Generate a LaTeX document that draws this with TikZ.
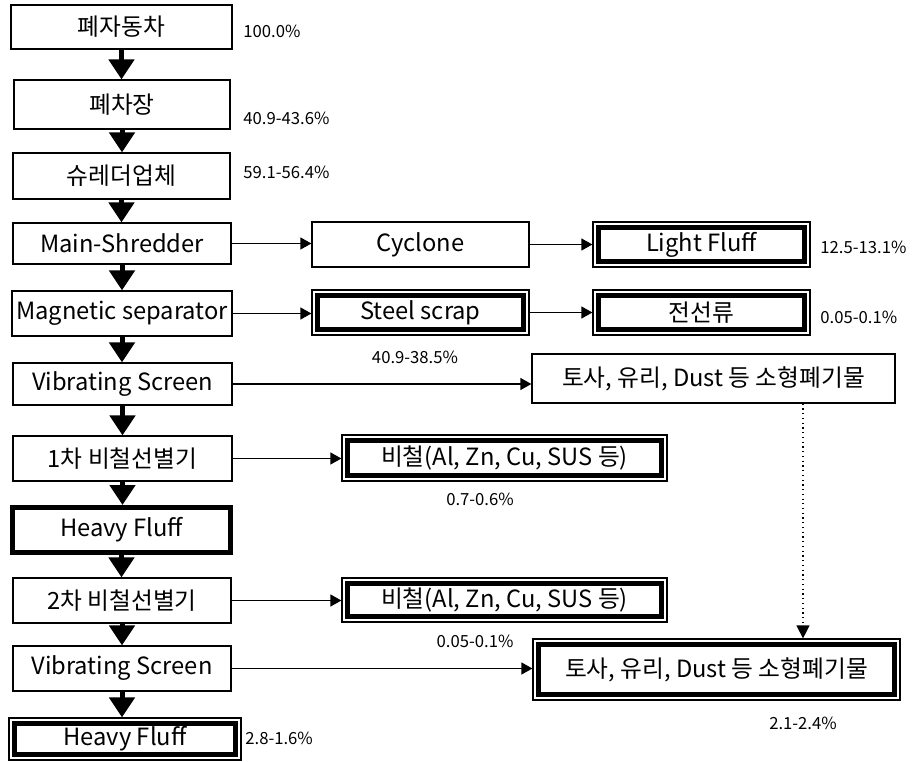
\documentclass[tikz,border=0pt]{standalone}
\usepackage{fontspec}
\setmainfont{Noto Sans CJK KR}
\usetikzlibrary{arrows.meta}

\begin{document}
\begin{tikzpicture}[
    x=0.2mm, y=-0.2mm,
    every node/.style={font=\fontsize{13.5}{16}\selectfont},
    box/.style={
        draw,
        line width=0.7pt,
        inner sep=0pt,
        minimum width=43.6mm,
        minimum height=9mm
    },
    thickbox/.style={box, line width=1mm},
    dblbox/.style={box, path picture={
        \draw[line width=1mm] ([shift={(1.1mm,-1.1mm)}]path picture bounding box.north west)
            rectangle ([shift={(-1.1mm,1.1mm)}]path picture bounding box.south east);}},
    pct/.style={font=\fontsize{9.5}{11}\selectfont, inner sep=0pt},
    flow/.style={line width=1mm, -{Triangle[width=5mm,length=4mm]}},
    arrow/.style={line width=0.7pt, -{Triangle[width=2.4mm,length=2.2mm]}},
    feed/.style={dotted, line width=0.7pt, -{Triangle[width=2.6mm,length=2.6mm]}}
]
    \useasboundingbox (0,0) rectangle (915,762);

    \node[box, minimum width=44.2mm, minimum height=8.8mm] (car) at (121.5,27) {폐자동차};
    \node[box, minimum width=43.2mm, minimum height=9.8mm] (junk) at (122,104.5) {폐차장};
    \node[box, minimum width=43.4mm, minimum height=9.2mm] (shredder) at (121.5,176) {슈레더업체};
    \node[box, minimum height=8.2mm] (main) at (122,243.5) {Main-Shredder};
    \node[box, minimum width=44mm] (magnet) at (122,313.5) {Magnetic separator};
    \node[box, minimum width=43.8mm, minimum height=8.4mm] (vib1) at (122.5,384) {Vibrating Screen};
    \node[box, minimum width=43.8mm] (first) at (122.5,458.5) {1차 비철선별기};
    \node[thickbox, minimum width=43.4mm, minimum height=9mm] (heavy) at (121.5,530) {Heavy Fluff};
    \node[box] (second) at (122,600.5) {2차 비철선별기};
    \node[box] (vib2) at (122,668.5) {Vibrating Screen};
    \node[dblbox, minimum width=46.4mm, minimum height=8.4mm] (residue) at (125,739) {Heavy Fluff};

    \node[box, minimum width=43.4mm] (cyclone) at (420.5,244.5) {Cyclone};
    \node[dblbox, minimum width=43.4mm] (light) at (701.5,244.5) {Light Fluff};
    \node[dblbox, minimum width=43.4mm] (steel) at (420.5,312.5) {Steel scrap};
    \node[dblbox, minimum width=43.4mm] (wire) at (701.5,312.5) {전선류};
    \node[box, minimum width=72.6mm, minimum height=9.8mm] (small1) at (713.5,378.5) {토사, 유리, Dust 등 소형폐기물};
    \node[dblbox, minimum width=65mm, minimum height=9.2mm] (nonfe1) at (504.5,458) {비철(Al, Zn, Cu, SUS 등)};
    \node[dblbox, minimum width=65mm, minimum height=8.8mm] (nonfe2) at (504.5,600) {비철(Al, Zn, Cu, SUS 등)};
    \node[dblbox, minimum width=73.4mm, minimum height=12.2mm] (small2) at (716.5,669.5) {토사, 유리, Dust 등 소형폐기물};

    \node[pct, anchor=west] (pcar) at (243,31) {100.0\%};
    \node[pct, anchor=west] (pjunk) at (243,118) {40.9-43.6\%};
    \node[pct, anchor=west] (pshred) at (243,172) {59.1-56.4\%};
    \node[pct, anchor=west] (plight) at (820,247) {12.5-13.1\%};
    \node[pct, anchor=west] (pwire) at (820,317) {0.05-0.1\%};
    \node[pct] (psteel) at (415,357) {40.9-38.5\%};
    \node[pct] (pnonfe1) at (480,499) {0.7-0.6\%};
    \node[pct] (pnonfe2) at (475,641) {0.05-0.1\%};
    \node[pct] (psmall2) at (803,723) {2.1-2.4\%};
    \node[pct, anchor=west] (presidue) at (245,738) {2.8-1.6\%};

    \foreach \a/\b in {car/junk, junk/shredder, shredder/main, main/magnet, magnet/vib1,
                       vib1/first, first/heavy, heavy/second, second/vib2, vib2/residue}
        \draw[flow] (\a.south) -- (\a.south |- \b.north);

    \draw[arrow] (main.east) -- (main.east -| cyclone.west);
    \draw[arrow] (cyclone.east) -- (cyclone.east -| light.west);
    \draw[arrow] (magnet.east) -- (magnet.east -| steel.west);
    \draw[arrow] (steel.east) -- (steel.east -| wire.west);
    \draw[arrow] (vib1.east) -- (vib1.east -| small1.west);
    \draw[arrow] (first.east) -- (first.east -| nonfe1.west);
    \draw[arrow] (second.east) -- (second.east -| nonfe2.west);
    \draw[arrow] (vib2.east) -- (vib2.east -| small2.west);

    \coordinate (tap) at (803,0);
    \draw[feed] (tap |- small1.south) -- (tap |- small2.north);

\end{tikzpicture}
\end{document}
